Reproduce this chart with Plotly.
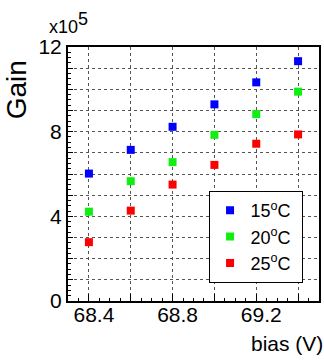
import plotly.graph_objects as go

bias = [68.4, 68.6, 68.8, 69.0, 69.2, 69.4]
gain_15 = [6.02, 7.14, 8.23, 9.29, 10.33, 11.33]
gain_20 = [4.22, 5.66, 6.56, 7.85, 8.83, 9.89]
gain_25 = [2.78, 4.27, 5.50, 6.43, 7.43, 7.87]
series_names = ["15<sup>o</sup>C", "20<sup>o</sup>C", "25<sup>o</sup>C"]
colors = ["#0000ff", "#11ee11", "#ff0000"]

x_tickvals = [68.4, 68.6, 68.8, 69.0, 69.2, 69.4]
x_ticktext = ["68.4", "", "68.8", "", "69.2", ""]
y_tickvals = list(range(0, 13))
y_ticktext = [str(v) if v % 4 == 0 else "" for v in y_tickvals]

FONT = "Liberation Sans, Arial, Helvetica, sans-serif"

fig = go.Figure()
for name, vals, col in zip(series_names, [gain_15, gain_20, gain_25], colors):
    fig.add_trace(go.Scatter(
        x=bias, y=vals, mode="markers", name=name + "&nbsp;",
        marker=dict(symbol="square", size=8, color=col, line=dict(width=0)),
    ))

axis_common = dict(
    showline=True, linecolor="black", linewidth=2, mirror=True,
    ticks="inside", tickcolor="black", tickwidth=1,
    showgrid=True, gridcolor="#555555", griddash="dot", gridwidth=1,
    zeroline=False,
    tickfont=dict(family=FONT, size=21, color="black"),
)

fig.update_xaxes(
    range=[68.3, 69.5], tickmode="array", tickvals=x_tickvals, ticktext=x_ticktext,
    ticklen=7, ticklabelshift=5, ticklabelstandoff=-6,
    minor=dict(tickmode="linear", tick0=68.4, dtick=0.05, ticks="inside", ticklen=3,
               tickcolor="black", showgrid=False),
    **axis_common,
)
fig.update_yaxes(
    range=[0, 12], tickmode="array", tickvals=y_tickvals, ticktext=y_ticktext,
    ticklen=5,
    minor=dict(tickmode="linear", tick0=0, dtick=0.25, ticks="inside", ticklen=3,
               tickcolor="black", showgrid=False),
    **axis_common,
)

fig.add_annotation(text="bias (V)", xref="paper", yref="paper", x=1.0, y=0,
                   xanchor="right", yanchor="middle", yshift=-42, xshift=6, showarrow=False,
                   font=dict(family=FONT, size=21, color="black"))
fig.add_annotation(text="Gain", xref="paper", yref="paper", x=-0.2016, y=0.831,
                   xanchor="center", yanchor="middle", textangle=-90, showarrow=False,
                   font=dict(family=FONT, size=28, color="black"))
fig.add_annotation(text="x10<sup><span style='font-size:18px'>5</span></sup>",
                   xref="paper", yref="paper", x=-0.083, y=1.0, yshift=8,
                   xanchor="left", yanchor="bottom", showarrow=False,
                   font=dict(family=FONT, size=18, color="black"))

fig.update_layout(
    width=324, height=361,
    margin=dict(l=68, r=3, t=47, b=60),
    paper_bgcolor="white", plot_bgcolor="white",
    showlegend=True,
    legend=dict(x=0.56, y=0.433, xanchor="left", yanchor="top",
                bgcolor="white", bordercolor="black", borderwidth=1,
                font=dict(family=FONT, size=18, color="black"),
                tracegroupgap=0, itemwidth=31),
)

fig.write_html("out.html", config={"displayModeBar": False},
               post_script="document.body.style.margin='0';")
